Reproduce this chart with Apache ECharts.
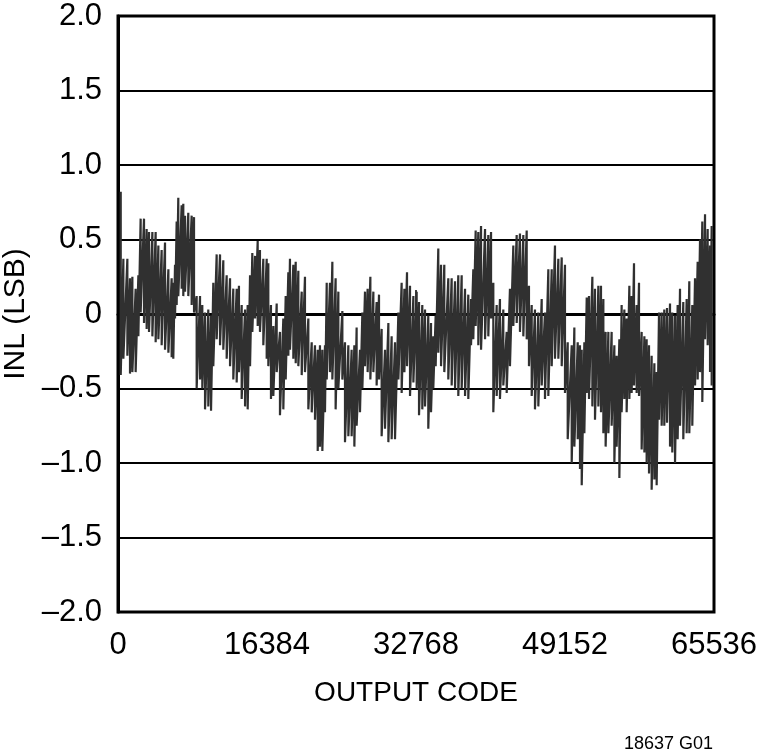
<!DOCTYPE html>
<html>
<head>
<meta charset="utf-8">
<script src="https://cdn.jsdelivr.net/npm/echarts@6/dist/echarts.min.js"></script>
<style>
html,body{margin:0;padding:0;background:#fff;}
#chart{width:760px;height:755px;}
</style>
</head>
<body>
<div id="chart"></div>
<script>
// Output codes (bucket centres)
const codes = [300,590,1030,1320,1580,1940,2240,2490,2860,3150,3410,3780,4140,4440,4800,5170,5540,5900,6080,6270,6450,6630,7000,7180,7370,7730,8100,8360,8650,9020,9270,9570,9930,10230,10480,10850,11220,11580,11950,12320,12680,13050,13300,13600,13970,14260,14520,14770,15070,15360,15610,15980,
16350,16530,16820,17080,17450,17810,18180,18440,18730,18910,19280,19540,19830,20200,20560,20930,21300,21660,21960,22210,22470,22760,22950,23310,23570,23930,24230,24670,24960,25330,25690,25990,26240,26610,26870,27160,27450,27750,28080,28440,28700,28990,29360,29730,30090,30460,30830,31190,31490,31780,32110,32480,32840,
33100,33460,33760,34120,34420,34670,34930,35220,35520,35880,36320,36690,37060,37420,37790,38160,38520,38820,39070,39330,39620,39920,40360,40720,41020,41270,41640,42000,42370,42740,43100,43470,43840,44200,44570,44940,45190,45490,45850,46220,46590,46950,47320,47690,48050,48420,48790,49150,49450,
49890,50180,50550,50800,50990,51280,51540,51790,52160,52450,52820,53110,53370,53620,53920,54280,54580,54830,55130,55380,55680,55930,56230,56480,56740,57030,57290,57580,57880,58130,58390,58680,58980,59230,59490,59780,60070,60370,60700,60950,61250,61540,61800,62160,62530,62820,63150,63450,63740,64000,64250,64550,64840,65100,65280];
// Upper INL excursion in each bucket (LSB)
const inlHigh = [0.82,0.37,0.37,0.24,0.25,0.17,0.26,0.64,0.64,0.57,0.55,0.55,0.55,0.46,0.43,0.48,0.30,0.24,0.21,0.33,0.62,0.78,0.73,0.74,0.66,0.68,0.66,0.65,0.12,0.12,0.06,0.01,0.03,-0.01,0.21,0.40,0.40,0.36,0.26,0.24,0.17,0.17,0.19,0.06,0.03,0.06,0.26,0.41,0.39,0.49,0.43,0.37,
0.37,0.34,0.06,-0.08,0.07,-0.12,-0.03,0.12,0.28,0.37,0.33,0.35,0.29,0.15,0.25,-0.03,-0.19,-0.21,-0.24,-0.21,-0.24,-0.21,0.21,0.21,0.35,0.24,0.15,0.02,-0.19,-0.21,-0.24,-0.21,-0.09,-0.24,0.01,0.15,0.17,0.25,0.15,0.08,0.13,-0.10,-0.24,-0.06,-0.15,-0.19,0.01,0.21,0.17,0.28,0.19,0.12,0.15,
0.08,0.06,0.03,-0.01,-0.06,-0.15,-0.01,0.44,0.33,0.33,0.24,0.24,0.22,0.26,0.26,0.17,0.13,0.10,0.30,0.56,0.55,0.59,0.57,0.53,0.55,0.21,0.06,0.10,0.03,-0.12,0.17,0.46,0.53,0.54,0.53,0.56,0.19,0.06,0.03,0.01,0.10,0.01,0.30,0.30,0.46,0.37,0.38,0.33,-0.19,
-0.21,-0.09,-0.19,-0.21,-0.24,-0.19,0.11,0.12,0.25,0.17,0.19,0.19,0.10,-0.12,-0.12,-0.12,-0.21,-0.28,-0.17,0.06,0.03,-0.03,0.19,0.12,0.34,0.06,0.21,-0.12,-0.15,-0.17,-0.21,-0.28,-0.33,-0.39,0.01,0.01,0.03,0.04,0.07,0.01,-0.01,0.06,0.17,0.08,0.10,0.22,0.06,0.24,0.35,0.50,0.62,0.67,0.57,0.46,0.59];
// Lower INL excursion in each bucket (LSB)
const inlLow = [-0.41,-0.30,-0.28,-0.40,-0.39,-0.39,-0.15,0.01,-0.06,-0.10,-0.12,-0.15,-0.19,-0.17,-0.21,-0.24,-0.26,-0.29,-0.30,-0.03,0.06,0.12,0.17,0.12,0.15,0.12,0.06,0.01,-0.50,-0.44,-0.50,-0.64,-0.62,-0.65,-0.35,-0.17,-0.21,-0.24,-0.30,-0.35,-0.44,-0.46,-0.39,-0.57,-0.62,-0.64,-0.35,-0.12,-0.03,-0.08,-0.12,-0.21,
-0.30,-0.35,-0.57,-0.55,-0.39,-0.68,-0.64,-0.44,-0.28,-0.24,-0.30,-0.33,-0.35,-0.41,-0.39,-0.64,-0.66,-0.71,-0.92,-0.89,-0.92,-0.66,-0.44,-0.39,-0.44,-0.64,-0.50,-0.44,-0.86,-0.82,-0.82,-0.89,-0.75,-0.66,-0.50,-0.35,-0.39,-0.44,-0.39,-0.48,-0.44,-0.82,-0.77,-0.86,-0.84,-0.84,-0.44,-0.53,-0.39,-0.35,-0.55,-0.46,-0.50,
-0.68,-0.64,-0.62,-0.77,-0.66,-0.50,-0.35,-0.26,-0.35,-0.39,-0.44,-0.48,-0.50,-0.55,-0.50,-0.55,-0.57,-0.21,-0.17,-0.08,-0.21,-0.24,-0.17,-0.15,-0.03,-0.66,-0.55,-0.57,-0.48,-0.53,-0.35,-0.08,-0.06,-0.12,-0.15,-0.17,-0.35,-0.55,-0.64,-0.62,-0.48,-0.57,-0.55,-0.35,-0.30,-0.30,-0.35,-0.53,-0.84,
-1.00,-0.89,-0.84,-1.04,-1.15,-0.80,-0.53,-0.57,-0.62,-0.71,-0.62,-0.66,-0.80,-0.89,-0.80,-0.75,-1.00,-0.89,-1.10,-0.66,-0.57,-0.66,-0.57,-0.53,-0.48,-0.53,-0.55,-0.91,-0.93,-1.00,-1.07,-1.18,-1.11,-1.15,-0.71,-0.75,-0.75,-0.73,-0.89,-0.93,-1.00,-0.84,-0.75,-0.84,-0.80,-0.80,-0.75,-0.48,-0.44,-0.39,-0.59,-0.17,-0.21,-0.39,-0.48];
// Axis ticks
const xTicks = [0,16384,32768,49152,65536];
const yTicks = [-2,-1.5,-1,-0.5,0,0.5,1,1.5,2];

const FONT = '"Liberation Sans Narrow","Liberation Sans",Arial,sans-serif';

const trace = [];
codes.forEach((c, i) => { trace.push([c, inlHigh[i]]); trace.push([c, inlLow[i]]); });

const txt = (size) => ({ fontFamily: FONT, fontSize: size, color: '#000' });

const chart = echarts.init(document.getElementById('chart'));
chart.setOption({
  animation: false,
  backgroundColor: '#fff',
  grid: { left: 118, right: 46, top: 16, bottom: 143, outerBoundsMode: 'none', containLabel: false,
          show: true, borderColor: '#000', borderWidth: 3, backgroundColor: 'transparent' },
  xAxis: {
    type: 'value', min: xTicks[0], max: xTicks[xTicks.length - 1], interval: xTicks[1] - xTicks[0],
    name: 'OUTPUT CODE', nameLocation: 'middle', nameGap: 67,
    nameTextStyle: txt(28),
    axisLine: { show: true, lineStyle: { color: '#000', width: 3 } },
    axisTick: { show: true, inside: true, length: 24, lineStyle: { color: '#000', width: 1.5 } },
    splitLine: { show: false },
    axisLabel: Object.assign(txt(31), { margin: 18, showMinLabel: true, showMaxLabel: true, formatter: v => String(v) }),
  },
  yAxis: {
    type: 'value', min: yTicks[0], max: yTicks[yTicks.length - 1], interval: 0.5,
    name: 'INL (LSB)', nameLocation: 'middle', nameGap: 84,
    nameTextStyle: txt(30),
    axisLine: { show: true, lineStyle: { color: '#000', width: 3 } },
    axisTick: { show: false },
    splitLine: { show: true, lineStyle: { color: '#000', width: 2 } },
    axisLabel: Object.assign(txt(31), {
      margin: 16,
      formatter: v => v === 0 ? '0' : (v < 0 ? '\u2013' : '') + Math.abs(v).toFixed(1)
    }),
  },
  graphic: [{ type: 'text', right: 47, top: 735, style: { text: '18637 G01', font: '18px ' + FONT, fill: '#000' } }],
  series: [{
    type: 'line', data: trace, showSymbol: false, symbol: 'none',
    lineStyle: { color: '#303030', width: 2.2 }, z: 1, silent: true
  }]
});
</script>
</body>
</html>
